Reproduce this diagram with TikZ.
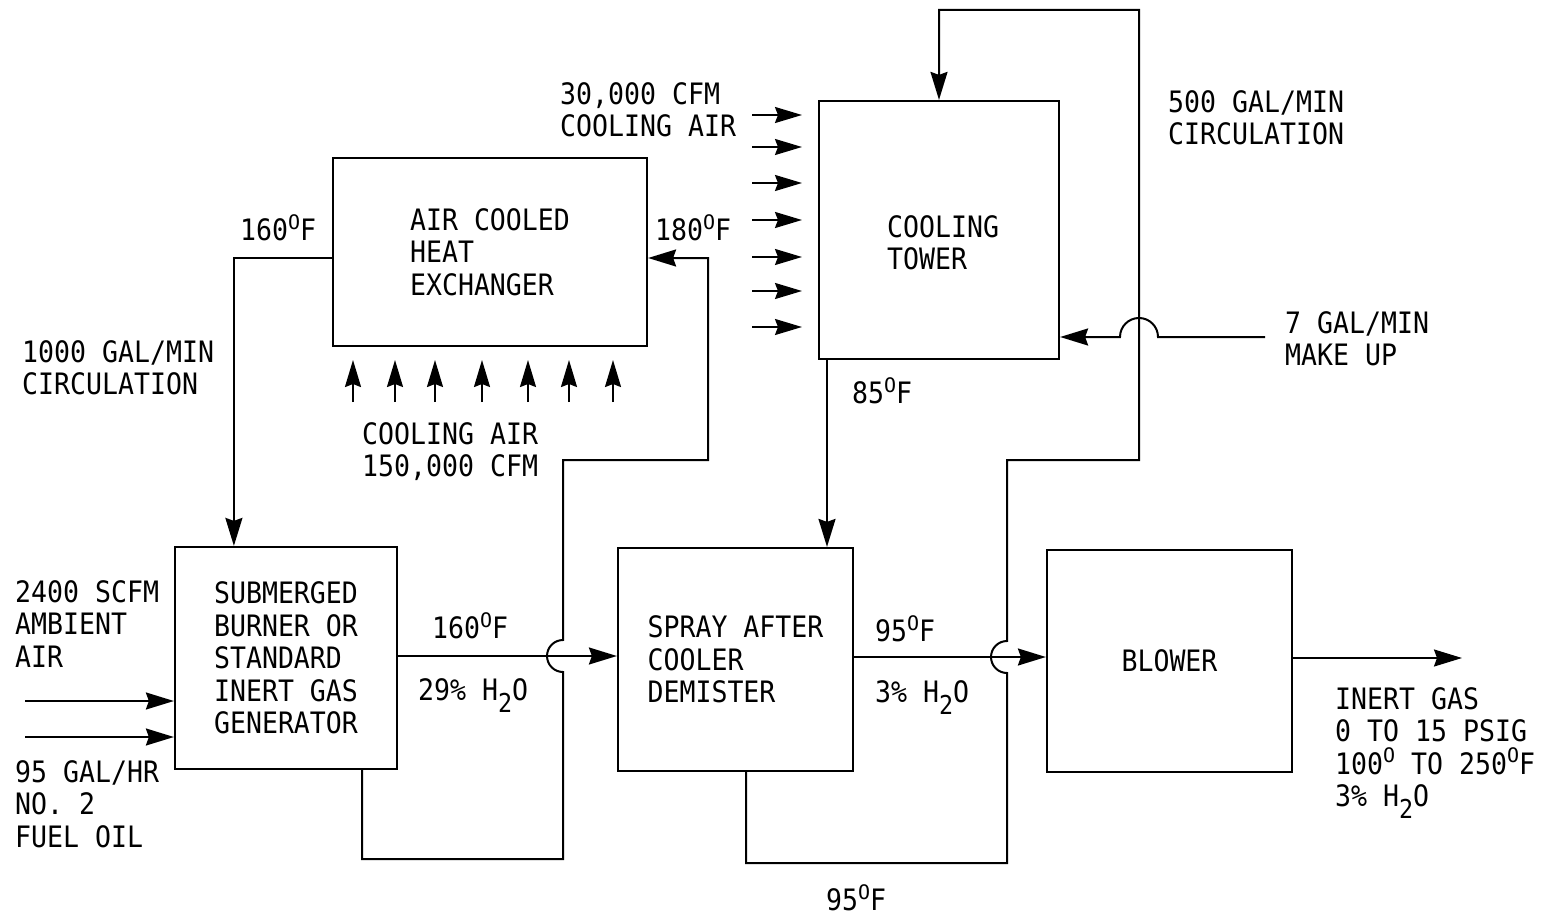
\documentclass[tikz,border=0pt]{standalone}
\usepackage{fontspec}
\usetikzlibrary{arrows.meta}
\newfontfamily\mono[FakeStretch=0.9]{DejaVu Sans Mono}
\newfontfamily\monow{DejaVu Sans Mono}
\newcommand\dO{\raisebox{11.5pt}{\monow\fontsize{20}{20}\selectfont O}}
\newcommand\subtwo{\raisebox{-12pt}{\fontsize{26}{26}\selectfont 2}}
\begin{document}
\begin{tikzpicture}[x=1pt,y=-1pt,
 every node/.style={font=\mono\fontsize{29.5}{32.5}\selectfont},
 box/.style={draw, line width=2.2pt, align=left, inner sep=0},
 lbl/.style={anchor=north west, inner sep=0, align=left},
 lblb/.style={anchor=base west, inner sep=0},
 flow/.style={line width=2pt, -{Stealth[length=28pt,width=17pt,inset=3pt]}},
 air/.style={line width=2pt, -{Stealth[length=27pt,width=16pt,inset=3pt]}}]
\useasboundingbox (0,0) rectangle (1553,915);

% boxes
\node[box, minimum width=314, minimum height=188] (hx) at (490,252) {AIR COOLED\\HEAT\\EXCHANGER};
\node[box, minimum width=240, minimum height=258] (ct) at (939,230) {};
\node[lbl] (cttext) at (887,215.25) {COOLING\\TOWER};
\node[box, minimum width=222, minimum height=222] (burner) at (286,658) {SUBMERGED\\BURNER OR\\STANDARD\\INERT GAS\\GENERATOR};
\node[box, minimum width=235, minimum height=223] (spray) at (735.5,659.5) {SPRAY AFTER\\COOLER\\DEMISTER};
\node[box, minimum width=245, minimum height=222] (blower) at (1169.5,661) {BLOWER};

% labels
\node[lbl] (l1) at (560,82.25) {30,000 CFM\\COOLING AIR};
\node[lbl] (l2) at (1168,90.25) {500 GAL/MIN\\CIRCULATION};
\node[lblb] (l3) at (240,240.75) {160\dO F};
\node[lblb] (l4) at (655,240.75) {180\dO F};
\node[lbl] (l5) at (1285,311.25) {7 GAL/MIN\\MAKE UP};
\node[lbl] (l6) at (22,340.25) {1000 GAL/MIN\\CIRCULATION};
\node[lbl] (l7) at (362,422.25) {COOLING AIR\\150,000 CFM};
\node[lblb] (l8) at (852,403.75) {85\dO F};
\node[lbl] (l9) at (15,580.25) {2400 SCFM\\AMBIENT\\AIR};
\node[lbl] (l10) at (15,760.25) {95 GAL/HR\\NO. 2\\FUEL OIL};
\node[lblb] (l11) at (432,638.75) {160\dO F};
\node[lblb] (l12) at (418,700.75) {29\% H\subtwo O};
\node[lblb] (l13) at (875,641.75) {95\dO F};
\node[lblb] (l14) at (875,702.75) {3\% H\subtwo O};
\node[lbl] (l15) at (1335,687.25) {INERT GAS\\0 TO 15 PSIG\\100\dO\ TO 250\dO F\\3\% H\subtwo O};
\node[lblb] (l16) at (826,910.5) {95\dO F};

% free ends
\coordinate (airin) at (25,701);
\coordinate (fuelin) at (25,737);
\coordinate (makeup) at (1265,337);
\coordinate (out) at (1462,658);

% connectors
\draw[flow] (hx.west |- 0,258) -| ([xshift=60]burner.north west);
\draw[flow] (burner.east |- 0,656) -- (spray.west |- 0,656);
\draw[flow] ([xshift=-36]burner.south east) -- ++(0,89) -| (563,672)
   arc[start angle=270, end angle=90, radius=16pt] -- (563,460) -| (708,258) -- (hx.east |- 0,258);
\draw[flow] (ct.south -| 827,0) -- (spray.north -| 827,0);
\draw[flow] (spray.east |- 0,657) -- (blower.west |- 0,657);
\draw[flow] ([xshift=-108]spray.south east) -- ++(0,91) -| (1007,673)
   arc[start angle=270, end angle=90, radius=16pt] -- (1007,460) -| (1139,10) -| (ct.north);
\draw[flow] (makeup) -- (1158,337) arc[start angle=0, end angle=180, radius=19pt] -- (ct.east |- makeup);
\draw[flow] (blower.east |- out) -- (out);
\draw[flow] (airin) -- (burner.west |- airin);
\draw[flow] (fuelin) -- (burner.west |- fuelin);

% cooling air arrows
\foreach \y in {115,147,183,220,257,291,327} \draw[air] (752,\y) -- (802,\y);
\foreach \x in {353,395,435,482,528,569,613} \draw[air] (\x,402) -- (\x,360);
\end{tikzpicture}
\end{document}
